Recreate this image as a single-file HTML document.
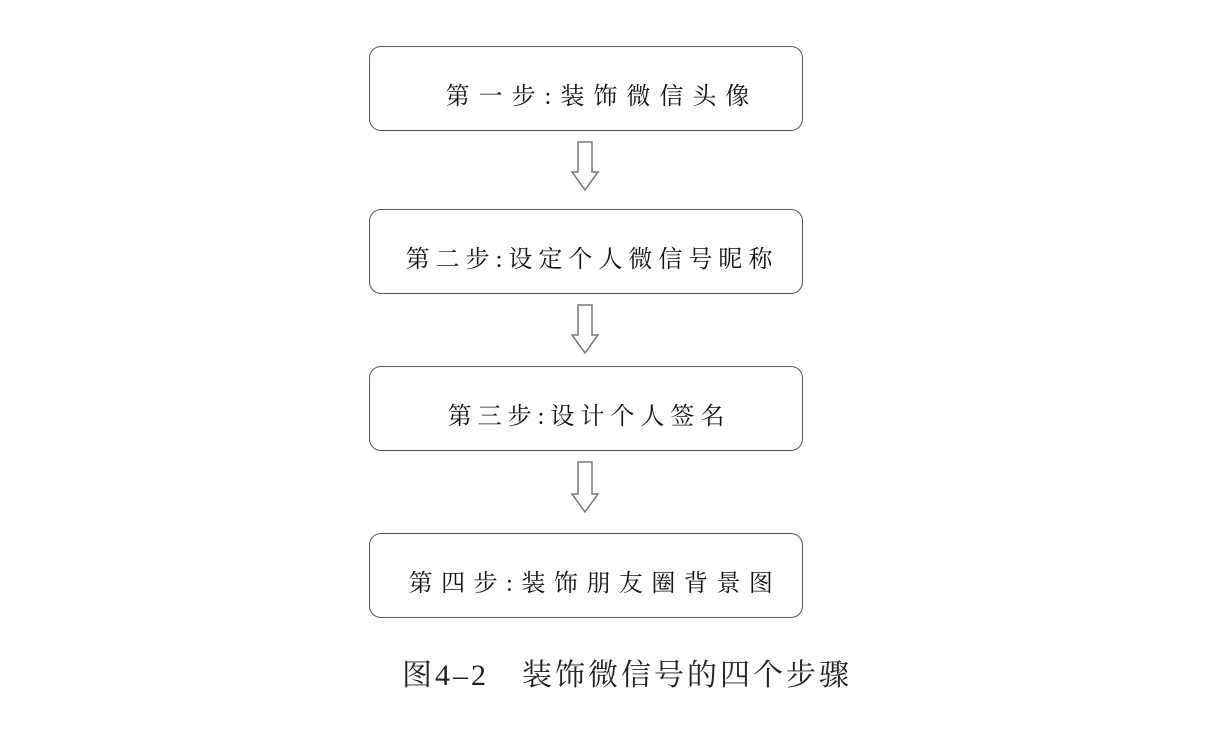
<!DOCTYPE html>
<html><head><meta charset="utf-8"><style>
body{margin:0;width:1220px;height:734px;background:#fff;position:relative;overflow:hidden;font-family:"Liberation Serif","Noto Serif CJK SC",serif;}
.b{position:absolute;left:369px;width:434px;height:85px;border:1.8px solid #555;border-radius:12px;box-sizing:border-box;display:flex;align-items:center;justify-content:center;font-size:24px;color:#111;letter-spacing:6px;padding-top:10px;padding-left:6px;}
svg{position:absolute;left:0;top:0}
.cap{position:absolute;left:402px;top:650px;font-size:30px;color:#222;white-space:nowrap;letter-spacing:3px;}
</style></head><body>
<div class="b" style="top:46px;letter-spacing:9px;padding-left:32px">第一步:装饰微信头像</div>
<div class="b" style="top:209px;padding-left:12px">第二步:设定个人微信号昵称</div>
<div class="b" style="top:366px">第三步:设计个人签名</div>
<div class="b" style="top:533px;letter-spacing:8.5px;padding-left:18px">第四步:装饰朋友圈背景图</div>
<svg width="1220" height="734" fill="none" stroke="#777" stroke-width="1.5">
<path d="M578 142 V172 H572 L585 190 L598 172 H592 V142 Z"/>
<path d="M578 305 V335 H572 L585 353 L598 335 H592 V305 Z"/>
<path d="M578 462 V494 H572 L585 512 L598 494 H592 V462 Z"/>
</svg>
<div class="cap">图4–2　装饰微信号的四个步骤</div>
</body></html>
